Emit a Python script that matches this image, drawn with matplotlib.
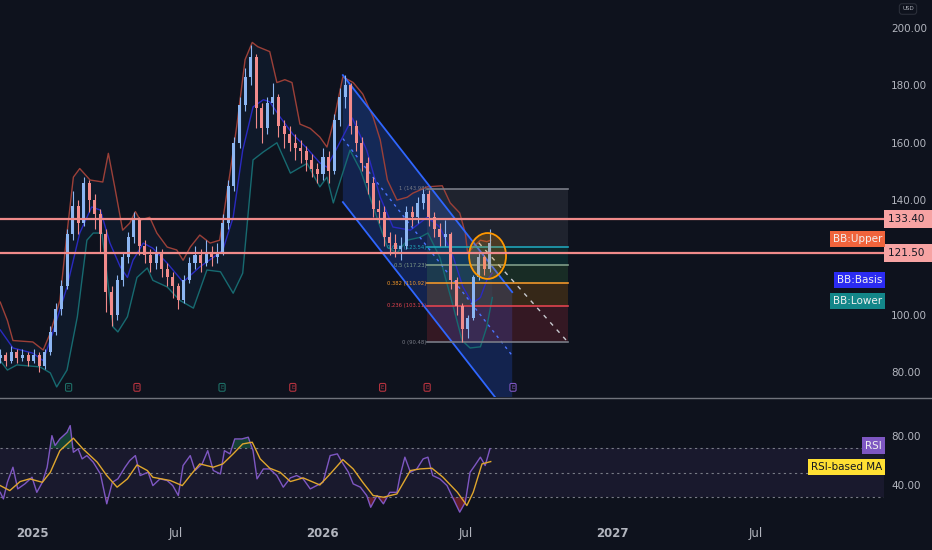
import matplotlib.pyplot as plt
import matplotlib.transforms as mtransforms
from matplotlib.patches import Ellipse, Polygon
from matplotlib.lines import Line2D
import numpy as np

# ---- data (x values are days since 2025-01-01) ----
close = [86, 84, 87, 85, 86, 84, 86, 82, 87, 94,
         102, 110, 128, 138, 132, 146, 140, 135, 128, 108,
         100, 112, 120, 127, 133, 124, 121, 118, 122, 116,
         113, 110, 105, 112, 118, 121, 118, 122, 120, 122,
         132, 145, 160, 173, 183, 190, 172, 165, 174, 176,
         166, 163, 160, 158, 157, 154, 151, 149, 155, 150,
         168, 176, 180, 166, 160, 153, 146, 137, 136, 127,
         125, 123, 124, 136, 134, 139, 142, 134, 130, 127,
         128, 112, 103, 95, 99, 113, 120, 116, 125]
high = [88, 87, 89, 88, 88, 87, 88, 87, 88, 96,
        104, 112, 130, 143, 140, 148, 147, 142, 137, 130,
        110, 114, 122, 129, 136, 134, 126, 123, 124, 123,
        118, 115, 111, 114, 120, 124, 123, 126, 124, 125,
        135, 147, 162, 176, 186, 194, 191, 174, 176, 181,
        177, 168, 166, 163, 161, 159, 156, 153, 158, 157,
        170, 179, 183.5, 181, 168, 162, 155, 148, 140, 138,
        129, 128, 127, 138, 138, 141, 144, 143.5, 136, 132,
        133, 129, 113, 104, 100, 114, 122, 121, 130]
low = [83, 82, 83, 83, 84, 82, 83, 80, 81, 86,
       93, 100, 109, 126, 128, 131, 136, 130, 122, 101,
       96, 98, 110, 118, 125, 121, 118, 115, 116, 113,
       110, 106, 102, 104, 111, 116, 115, 117, 117, 118,
       121, 130, 143, 158, 171, 180, 165, 160, 163, 170,
       162, 158, 157, 154, 153, 150, 148, 146, 147, 146,
       149, 166, 172, 163, 157, 150, 142, 134, 132, 124,
       121, 120, 119, 123, 131, 132, 137, 131, 127, 124,
       124, 109, 100, 90.5, 92, 98, 112, 114, 115]
first_open = 85
first_day = -40

upper_days = [-40, -31, -24, 1, 14, 23, 35, 44, 52, 60, 73, 89, 96, 104, 114, 123, 130, 136, 148, 157,
              170, 182, 190, 199, 211, 224, 236, 249, 258, 268, 277, 284, 299, 308, 318, 327, 337, 350, 362, 371,
              379, 391, 404, 416, 429, 438, 447, 459, 472, 479, 497, 516, 526, 538, 545, 548, 555, 564, 572, 577]
upper = [104.4, 98, 91, 90.5, 87.7, 93.6, 105, 128.5, 148, 151, 147, 146.3, 156.3, 144.6, 129.5, 132, 136, 133, 134, 128.5,
         123.6, 122.6, 119, 123.6, 127.8, 125, 126, 149.4, 166.8, 189, 195, 193.5, 191.8, 181, 182, 181, 166.5, 165, 162, 158.5,
         167, 183, 181, 177, 169, 161, 147, 140, 141, 142.4, 144.6, 145, 139, 135.5, 128.5, 121.5, 123.6, 126, 125.5, 126]
basis_days = [-40, -24, 1, 14, 26, 44, 60, 75, 86, 98, 111, 120, 127, 140, 152, 170, 190, 211, 228, 240,
              253, 265, 278, 291, 299, 312, 328, 346, 362, 371, 387, 403, 421, 438, 454, 476, 497, 513, 530, 542,
              554, 564, 572, 579]
basis = [94.7, 88.4, 86.6, 84, 93.6, 109.7, 128.5, 137.6, 136.5, 125, 116.7, 113, 119, 125, 123.2, 118, 111.4, 116.7, 120, 122.6,
         134, 157.4, 172.5, 175, 174.3, 169, 163, 158, 153, 151.5, 160, 168.6, 157.4, 141, 130.6, 129.5, 134, 130.6, 120, 109.7,
         104, 106, 112, 114.5]
lower_days = [-40, -31, -19, 10, 23, 31, 44, 57, 69, 77, 88, 94, 102, 108, 120, 132, 145, 152, 170, 186,
              203, 220, 237, 253, 265, 278, 291, 308, 325, 346, 362, 371, 379, 384, 400, 413, 425, 438, 447, 459,
              472, 488, 498, 513, 530, 541, 551, 564, 572, 579]
lower = [84, 80.7, 82.5, 81.8, 79.7, 74.8, 80.7, 99.3, 126, 128.5, 128.5, 114.5, 95.7, 94, 99.3, 113, 116.3, 112, 109.7, 105,
         102.3, 115.6, 115, 107.5, 114.5, 154, 156.8, 160, 149.4, 152.8, 144.6, 148, 139, 143.5, 157.4, 150.5, 141, 130.6, 123.6, 121.5,
         126, 127, 128.5, 120, 102.7, 91, 88.4, 88.8, 95.7, 106]

rsi_days = [-40, -36, -31, -24, -18, -9, 0, 6, 13, 19, 25, 29, 35, 44, 48, 52, 58, 63, 69, 77,
            86, 94, 101, 108, 117, 123, 130, 136, 146, 152, 161, 170, 177, 184, 190, 199, 205, 214, 221, 228,
            237, 242, 249, 255, 264, 272, 278, 283, 291, 299, 308, 316, 325, 333, 341, 350, 358, 366, 375, 384,
            390, 398, 404, 413, 421, 426, 434, 442, 450, 459, 463, 469, 476, 484, 492, 498, 504, 513, 522, 530,
            538, 545, 551, 557, 564, 570, 576]
rsi = [34, 28.6, 42.2, 54.5, 36.8, 40.9, 46.3, 34, 42.2, 54.5, 80.3, 72.2, 77.6, 83, 88.5, 66.7, 69.5, 61.3, 64, 58.6,
       49, 24.6, 42.2, 45, 54.5, 60, 64, 47.7, 50.4, 39.5, 45, 43.6, 39.5, 31.4, 55.9, 64, 51.8, 57.2, 68, 51.8,
       49, 68, 65.4, 77.6, 77.6, 79, 68, 45, 53.1, 53.1, 47.7, 38.2, 45.8, 47.7, 45, 36.8, 39.5, 42.2, 64, 65.4,
       58.6, 50.4, 40.9, 38.2, 31.4, 21.8, 31.4, 24.6, 34, 34, 47.7, 62.7, 50.4, 53.1, 61.3, 62.7, 47.7, 45, 39.5, 28.6,
       17.8, 25.9, 50.4, 55.9, 62.7, 55.9, 69.5]
rsi_ma_days = [-40, -28, -15, -3, 13, 23, 35, 52, 64, 82, 94, 107, 120, 132, 145, 152, 174, 189, 199, 211,
               228, 240, 253, 265, 277, 287, 299, 312, 325, 341, 362, 375, 391, 404, 416, 429, 442, 459, 476, 488,
               503, 517, 535, 547, 555, 566, 577]
rsi_ma = [39.5, 35.4, 42.8, 45, 42.2, 50.4, 68, 78.2, 69.5, 58.6, 47.7, 38.2, 45, 56.4, 51.8, 46.3, 43.6, 39.5, 47.7, 57.2,
          54.5, 57.2, 65.4, 73.5, 74.9, 61.3, 53.7, 50.4, 42.8, 45.8, 40, 49, 60.7, 53.1, 42.2, 31.4, 30, 32.7, 51.8, 53.1,
          53.7, 46.3, 34.1, 23.2, 34.1, 57.2, 59.1]

# drawings
h_levels = [133.40, 121.50]
channel_days = [391, 604]
channel_upper = [183.6, 107.9]
channel_width = 44.3
fib_days = [497, 674]
fib_low, fib_high = 90.48, 143.98
fib_ratios = [1, 0.618, 0.5, 0.382, 0.236, 0]
fib_colors = ['#787b86', '#1fa3b8', '#7f9c88', '#f0962a', '#e0434f', '#787b86']
fib_fills = ['#787b86', '#089981', '#4caf50', '#ff9800', '#f23645']
proj_days = [562, 674]
proj_price = [125.1, 90.48]
circle_center = (573, 120.5)
circle_size = (46.5, 16.0)
earn_days = [46, 132, 239, 328, 441, 497, 605]
earn_colors = ['#1e6e66', '#b5333f', '#1e6e66', '#b5333f', '#b5333f', '#b5333f', '#7e57c2']

month_days = [0, 181, 365, 546, 730, 911]
month_labels = ['2025', 'Jul', '2026', 'Jul', '2027', 'Jul']

# ---- style ----
BG = '#0e121d'
TXT = '#b2b5be'
UP = '#8cb6f2'
DOWN = '#f28b8b'
plt.rcParams['font.family'] = 'DejaVu Sans'

W, H = 932, 550
def px_box(l, t, r, b):
    return [l / W, 1 - b / H, (r - l) / W, (b - t) / H]

fig = plt.figure(figsize=(9.32, 5.5), dpi=100, facecolor=BG)
ax = fig.add_axes(px_box(0, 0, 884, 397))
ax_rsi = fig.add_axes(px_box(0, 399, 884, 520), sharex=ax)
for a in (ax, ax_rsi):
    a.set_facecolor(BG)
    for s in a.spines.values():
        s.set_visible(False)
    a.yaxis.tick_right()
    a.tick_params(axis='y', length=0, pad=5, labelcolor=TXT, labelsize=7.5)

ax.set_xlim(-40.3, 1071.7)
ax.set_ylim(71.3, 209.8)
ax_rsi.set_ylim(11.4, 110.2)

# Bollinger bands
ax.fill(np.concatenate([upper_days, lower_days[::-1]]), np.concatenate([upper, lower[::-1]]),
        color='#2196f3', alpha=0.06, lw=0, zorder=1)
ax.plot(upper_days, upper, color='#9c4038', lw=1, zorder=2)
ax.plot(basis_days, basis, color='#2a2ac0', lw=1, zorder=2)
ax.plot(lower_days, lower, color='#176a70', lw=1, zorder=2)

# channel
cd = np.array(channel_days)
cu = np.array(channel_upper)
cl = cu - channel_width
ax.add_patch(Polygon([[cd[0], cu[0]], [cd[1], cu[1]], [cd[1], cl[1]], [cd[0], cl[0]]],
                     closed=True, fc='#2962ff', alpha=0.22, ec='none', zorder=1.5))
ax.plot(cd, cu, color='#2f66ff', lw=1.3, zorder=3)
ax.plot(cd, cl, color='#2f66ff', lw=1.3, zorder=3)
ax.plot(cd, cu - channel_width / 2, color='#4a73ff', lw=1, ls=(0, (2, 3)), zorder=3)

# fib retracement
levels = [fib_low + r * (fib_high - fib_low) for r in fib_ratios]
for i in range(len(levels) - 1):
    ax.fill_between(fib_days, levels[i + 1], levels[i], color=fib_fills[i], alpha=0.17, lw=0, zorder=1.6)
for lv, r, c in zip(levels, fib_ratios, fib_colors):
    ax.plot(fib_days, [lv, lv], color=c, lw=1.2, zorder=3)
    lab = f'{r:g} ({lv:.2f})' if r not in (1, 0) else f'{r} ({lv:.2f})'
    ax.text(fib_days[0] - 1, lv, lab, color=c, fontsize=3.8, ha='right', va='center', zorder=4)
ax.plot(proj_days, proj_price, color='#c8cad0', lw=1, ls=(0, (3, 4)), zorder=3)

# candles
op = np.concatenate([[first_open], close[:-1]])
cl_ = np.array(close)
days = first_day + 7 * np.arange(len(close))
cols = np.where(cl_ >= op, UP, DOWN)
ax.vlines(days, low, high, colors=cols, lw=0.8, zorder=5)
ax.bar(days, np.maximum(np.abs(cl_ - op), 0.5), bottom=np.minimum(op, cl_), width=3.8, color=cols, zorder=5)

# circle
ax.add_patch(Ellipse(circle_center, circle_size[0], circle_size[1], fc='#ff9800', alpha=0.2, ec='none', zorder=6))
ax.add_patch(Ellipse(circle_center, circle_size[0], circle_size[1], fc='none', ec='#ff9800', lw=1.3, zorder=6))

# horizontal levels
for lv in h_levels:
    ax.axhline(lv, color='#f08a8a', lw=1.6, zorder=7)

# earnings markers
tr_e = mtransforms.blended_transform_factory(ax.transData, ax.transAxes)
for d, c in zip(earn_days, earn_colors):
    ax.text(d, 0.018, 'E', transform=tr_e, color=c, fontsize=4, ha='center', va='bottom', zorder=8,
            bbox=dict(boxstyle='round,pad=0.25', fc=BG, ec=c, lw=0.8))

# price axis
ax.set_yticks([80, 100, 140, 160, 180, 200])
ax.set_yticklabels([f'{v:.2f}' for v in [80, 100, 140, 160, 180, 200]])
ax.tick_params(axis='x', bottom=False, labelbottom=False)
tr_r = mtransforms.blended_transform_factory(ax.transAxes, ax.transData)
for lv in h_levels:
    ax.text(1.004, lv, f'{lv:.2f}  ', transform=tr_r, color='#131722', fontsize=7.5, ha='left', va='center',
            clip_on=False, zorder=9, bbox=dict(boxstyle='square,pad=0.35', fc='#f7a3a3', ec='none'))
bb_labels = [('BB:Upper', 126.4, '#f0643c'), ('BB:Basis', 112.1, '#2b2bf2'), ('BB:Lower', 104.8, '#138689')]
for txt, y, c in bb_labels:
    ax.text(0.998, y, txt, transform=tr_r, color='#f0f0f0', fontsize=7.5, ha='right', va='center',
            zorder=9, bbox=dict(boxstyle='square,pad=0.3', fc=c, ec='none'))
fig.text(908 / W, 1 - 9 / H, 'USD', color=TXT, fontsize=4, ha='center', va='center',
         bbox=dict(boxstyle='round,pad=0.5', fc=BG, ec='#2a2e39', lw=0.8))
fig.add_artist(Line2D([0, 1], [1 - 397.5 / H, 1 - 397.5 / H], color='#70737c', lw=1))

# RSI pane
ax_rsi.axhspan(30, 70, color='#7e57c2', alpha=0.1, lw=0)
for lv in (70, 50, 30):
    ax_rsi.axhline(lv, color='#787b86', lw=0.8, ls=(0, (2, 3)))
rsi_a = np.array(rsi)
ax_rsi.fill_between(rsi_days, rsi_a, 70, where=rsi_a > 70, interpolate=True, color='#1b6b4a', alpha=0.55, lw=0)
ax_rsi.fill_between(rsi_days, rsi_a, 30, where=rsi_a < 30, interpolate=True, color='#9b2430', alpha=0.6, lw=0)
ax_rsi.plot(rsi_days, rsi, color='#7e57c2', lw=1)
ax_rsi.plot(rsi_ma_days, rsi_ma, color='#e0a72e', lw=1)
ax_rsi.set_yticks([40, 80])
ax_rsi.set_yticklabels(['40.00', '80.00'])
tr_rr = mtransforms.blended_transform_factory(ax_rsi.transAxes, ax_rsi.transData)
ax_rsi.text(0.998, 72.2, 'RSI', transform=tr_rr, color='#f0f0f0', fontsize=7.5, ha='right', va='center',
            zorder=9, bbox=dict(boxstyle='square,pad=0.3', fc='#7e57c2', ec='none'))
ax_rsi.text(0.998, 54.7, 'RSI-based MA', transform=tr_rr, color='#131722', fontsize=7.5, ha='right', va='center',
            zorder=9, bbox=dict(boxstyle='square,pad=0.3', fc='#ffe033', ec='none'))

ax_rsi.set_xticks(month_days)
ax_rsi.set_xticklabels(month_labels)
ax_rsi.tick_params(axis='x', length=0, pad=5, labelcolor=TXT, labelsize=8.5)
for t in ax_rsi.get_xticklabels():
    if t.get_text().isdigit():
        t.set_fontweight('bold')

fig.savefig('out.png', dpi=100, facecolor=BG)
